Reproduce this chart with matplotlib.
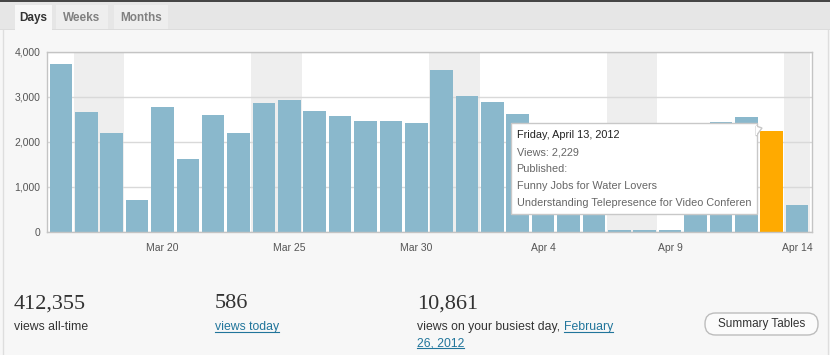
import matplotlib
matplotlib.use("Agg")
import matplotlib.pyplot as plt
from matplotlib.patches import Rectangle, FancyBboxPatch, Polygon
from matplotlib.lines import Line2D
from matplotlib.transforms import IdentityTransform

# ---------------- data ----------------
days = ["Mar 16", "Mar 17", "Mar 18", "Mar 19", "Mar 20", "Mar 21", "Mar 22", "Mar 23",
        "Mar 24", "Mar 25", "Mar 26", "Mar 27", "Mar 28", "Mar 29", "Mar 30", "Mar 31",
        "Apr 1", "Apr 2", "Apr 3", "Apr 4", "Apr 5", "Apr 6", "Apr 7", "Apr 8",
        "Apr 9", "Apr 10", "Apr 11", "Apr 12", "Apr 13", "Apr 14"]
views = [3730, 2670, 2190, 705, 2775, 1615, 2595, 2190, 2855, 2930,
         2680, 2567, 2456, 2456, 2425, 3590, 3020, 2892, 2618, 2350,
         2300, 2280, 30, 30, 40, 2300, 2434, 2545, 2229, 586]
weekend_days = ["Mar 17", "Mar 18", "Mar 24", "Mar 25", "Mar 31", "Apr 1",
                "Apr 7", "Apr 8", "Apr 14"]
highlight_day = "Apr 13"
xtick_labels = ["Mar 20", "Mar 25", "Mar 30", "Apr 4", "Apr 9", "Apr 14"]
ytick_values = [0, 1000, 2000, 3000, 4000]

tooltip_lines = ["Friday, April 13, 2012", "Views: 2,229", "Published:",
                 "Funny Jobs for Water Lovers",
                 "Understanding Telepresence for Video Conferen"]
stat_numbers = ["412,355", "586", "10,861"]
stat_labels = ["views all-time", "views today", "views on your busiest day, "]
busiest_link = ["February", "26, 2012"]
tabs = ["Days", "Weeks", "Months"]

# ---------------- figure ----------------
W, H = 830, 355
plt.rcParams['font.family'] = ['Liberation Sans', 'DejaVu Sans']
fig = plt.figure(figsize=(W / 100, H / 100), dpi=100)
fig.patch.set_facecolor("#f7f7f7")


def fx(x):
    return x / W


def fy(y):
    return 1 - y / H


def frect(x0, y0, x1, y1, **kw):
    r = Rectangle((fx(x0), fy(y1)), fx(x1) - fx(x0), fy(y0) - fy(y1),
                  transform=fig.transFigure, **kw)
    fig.patches.append(r)
    return r


# top strip and tabs
frect(0, 0, W, 2.5, facecolor="#464646", edgecolor="none", zorder=-2)
frect(0, 2.5, W, 29, facecolor="#e6e6e6", edgecolor="none", zorder=-2)
frect(0, 28.5, W, 29.5, facecolor="#dcdcdc", edgecolor="none", zorder=-2)
tab_pos = [(15, 52), (56, 108), (114, 168)]
for (x0, x1), name in zip(tab_pos, tabs):
    active = name == "Days"
    frect(x0, 5, x1, 29.5 if active else 28.5,
          facecolor="#f7f7f7" if active else "#eeeeee", edgecolor="none", zorder=-1)
    fig.text(fx((x0 + x1) / 2), fy(18), name, ha="center", va="center",
             fontsize=8.5, fontweight="bold", color="#333333" if active else "#808080")

# panel borders
fig.add_artist(Line2D([fx(3), fx(3)], [fy(29.5), 0], transform=fig.transFigure,
                      color="#dedede", lw=1, zorder=-1))
fig.add_artist(Line2D([fx(828), fx(828)], [fy(29.5), 0], transform=fig.transFigure,
                      color="#dedede", lw=1, zorder=-1))

# ---------------- chart ----------------
ax = fig.add_axes([fx(46.7), fy(231.7), fx(811.7) - fx(46.7), fy(51.7) - fy(231.7)])
ax.set_facecolor("white")
xs = list(range(len(days)))
colors = ["#ffaa00" if d == highlight_day else "#8ab8cc" for d in days]
for d in weekend_days:
    i = days.index(d)
    ax.axvspan(i - 0.5, i + 0.5, color="#eeeeee", zorder=0, lw=0)
ax.bar(xs, views, width=0.89, color=colors, zorder=2, lw=0)
ax.set_xlim(-0.56, 29.58)
ax.set_ylim(0, 4000)
ax.set_yticks(ytick_values)
ax.set_yticklabels([f"{v:,}" for v in ytick_values])
ax.set_xticks([days.index(t) for t in xtick_labels])
ax.set_xticklabels(xtick_labels)
ax.tick_params(axis="both", length=0, labelsize=7.5, labelcolor="#555555")
ax.tick_params(axis="y", pad=4.5)
ax.tick_params(axis="x", pad=8)
ax.yaxis.grid(True, color="#d9d9d9", lw=1, zorder=1)
ax.set_axisbelow(True)
for s in ax.spines.values():
    s.set_color("#c4c4c4")
    s.set_linewidth(1)

# ---------------- tooltip ----------------
tx0, ty0, tx1, ty1 = 511, 123.3, 756.7, 214
frect(tx0, ty0, tx1, ty1, facecolor="white", edgecolor="#c8c8c8", lw=1, zorder=5)
tri = Polygon([(fx(756.2), fy(126)), (fx(762), fy(128)), (fx(756.2), fy(136))],
              closed=True, transform=fig.transFigure, facecolor="white",
              edgecolor="#c8c8c8", lw=1, zorder=5)
fig.patches.append(tri)
fig.patches.append(Rectangle((fx(755.6), fy(135.5)), fx(1.2), fy(126.5) - fy(135.5),
                             transform=fig.transFigure, facecolor="white",
                             edgecolor="none", zorder=5.5))
line_y = [135.5, 152.3, 169, 186, 203.3]
for k, (txt, yy) in enumerate(zip(tooltip_lines, line_y)):
    fig.text(fx(516.5), fy(yy), txt, ha="left", va="center", fontsize=7.8,
             color="#222222" if k == 0 else "#666666", zorder=6)

# ---------------- stats ----------------
num_x = [14, 215, 417]
for x, n in zip(num_x, stat_numbers):
    fig.text(fx(x), fy(304), n, ha="left", va="center", fontsize=16,
             family=["Liberation Serif", "DejaVu Serif"], color="#333333")

link_color = "#21759b"
lab_fs = 8.8
t0 = fig.text(fx(14), fy(327), stat_labels[0], ha="left", va="center", fontsize=lab_fs,
              color="#333333")
t1 = fig.text(fx(215), fy(327), stat_labels[1], ha="left", va="center", fontsize=lab_fs,
              color=link_color)
t2 = fig.text(fx(417), fy(327), stat_labels[2], ha="left", va="center", fontsize=lab_fs,
              color="#333333")
fig.canvas.draw()
r = fig.canvas.get_renderer()
bb = t2.get_window_extent(r)
t3 = fig.text(bb.x1 / W, fy(327), busiest_link[0], ha="left", va="center",
              fontsize=lab_fs, color=link_color)
t4 = fig.text(fx(417), fy(343.5), busiest_link[1], ha="left", va="center",
              fontsize=lab_fs, color=link_color)
fig.canvas.draw()
for t in (t1, t3, t4):
    b = t.get_window_extent(r)
    yline = (b.y0 + 1.2) / H
    fig.add_artist(Line2D([b.x0 / W, b.x1 / W], [yline, yline],
                          transform=fig.transFigure, color=link_color, lw=0.8))

# button (pixel coordinates, origin bottom-left)
bx0, bx1, by_top, by_bot = 705, 818, 313, 335
btn = FancyBboxPatch((bx0, H - by_bot), bx1 - bx0, by_bot - by_top,
                     boxstyle="round,pad=0,rounding_size=10.5",
                     transform=IdentityTransform(), facecolor="#fbfbfb",
                     edgecolor="#bdbdbd", lw=1, zorder=3)
fig.patches.append(btn)
fig.text(fx(761.5), fy(324), "Summary Tables", ha="center", va="center",
         fontsize=8.5, color="#333333", zorder=4)

fig.savefig("out.png", dpi=100, facecolor=fig.get_facecolor())
